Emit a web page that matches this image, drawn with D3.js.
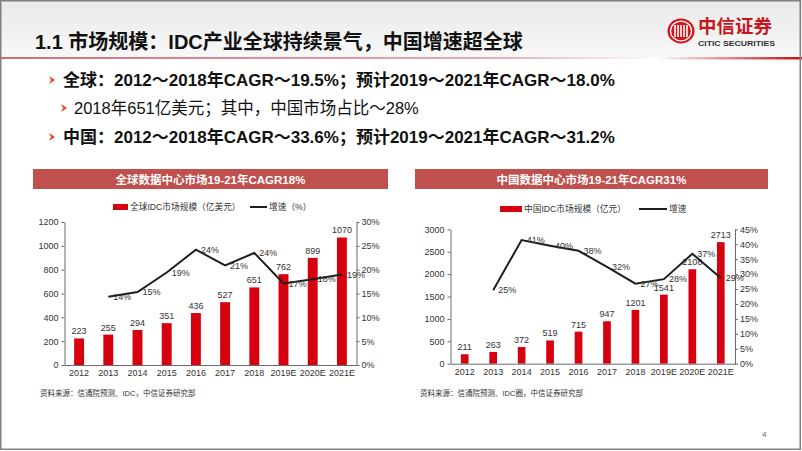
<!DOCTYPE html>
<html><head><meta charset="utf-8">
<script src="https://cdn.jsdelivr.net/npm/d3@7"></script>
<style>
body{margin:0;background:#fff}
svg{display:block}
text{font-family:"Liberation Sans","Noto Sans CJK SC",sans-serif}
</style>
</head><body>
<svg id="c" width="802" height="451"></svg>
<script>
// ---------- data ----------
const years = ["2012","2013","2014","2015","2016","2017","2018","2019E","2020E","2021E"];
const globalSize = [223,255,294,351,436,527,651,762,899,1070];
const globalGrowth = [null,14.3,15.3,19.4,24.2,20.9,23.5,17.1,18.0,19.0];
const chinaSize = [211,263,372,519,715,947,1201,1541,2108,2713];
const chinaGrowth = [null,24.6,41.4,39.5,37.8,32.4,26.8,28.3,36.8,28.7];
const globalLeftTicks = [0,200,400,600,800,1000,1200];
const globalRightTicks = [0,5,10,15,20,25,30];
const chinaLeftTicks = [0,500,1000,1500,2000,2500,3000];
const chinaRightTicks = [0,5,10,15,20,25,30,35,40,45];

const pageTitle = "1.1 市场规模：IDC产业全球持续景气，中国增速超全球";
const bullets = [
  {t:"全球：2012～2018年CAGR～19.5%；预计2019～2021年CAGR～18.0%", lvl:0},
  {t:"2018年651亿美元；其中，中国市场占比～28%", lvl:1},
  {t:"中国：2012～2018年CAGR～33.6%；预计2019～2021年CAGR～31.2%", lvl:0}
];

const svg = d3.select("#c");
const defs = svg.append("defs");
const hg = defs.append("linearGradient").attr("id","hdr").attr("x1",0).attr("x2",0).attr("y1",0).attr("y2",1);
hg.append("stop").attr("offset",0).attr("stop-color","#e9e9e9");
hg.append("stop").attr("offset",1).attr("stop-color","#f8f8f8");
const l1 = defs.append("linearGradient").attr("id","ln1");
l1.append("stop").attr("offset",0).attr("stop-color","#cf6e78");
l1.append("stop").attr("offset",0.75).attr("stop-color","#e6aeb3");
l1.append("stop").attr("offset",1).attr("stop-color","#ffffff");
const l2 = defs.append("linearGradient").attr("id","ln2");
l2.append("stop").attr("offset",0).attr("stop-color","#ffffff");
l2.append("stop").attr("offset",1).attr("stop-color","#bf1018");

// header
svg.append("rect").attr("x",0).attr("y",0).attr("width",802).attr("height",57).attr("fill","url(#hdr)");
svg.append("rect").attr("x",0).attr("y",57).attr("width",665).attr("height",2).attr("fill","url(#ln1)");
svg.append("rect").attr("x",655).attr("y",57).attr("width",147).attr("height",2.5).attr("fill","url(#ln2)");
svg.append("text").attr("x",35).attr("y",49).attr("font-size",20).attr("font-weight","bold")
  .attr("fill","#111").text(pageTitle);

// logo
const lg = svg.append("g").attr("transform","translate(681,31)");
lg.append("ellipse").attr("rx",13.5).attr("ry",12.5).attr("fill","#d2161e");
lg.append("ellipse").attr("rx",10.5).attr("ry",9.8).attr("fill","none").attr("stroke","#fff").attr("stroke-width",1.3);
[-6,-3,0,3,6].forEach(dx=>{
  lg.append("rect").attr("x",dx-0.8).attr("y",-6).attr("width",1.6).attr("height",12).attr("fill","#fff");
});
svg.append("text").attr("x",698).attr("y",33).attr("font-size",18.5).attr("font-weight","bold")
  .attr("fill","#c8161d").attr("font-family","'Noto Sans CJK SC'").text("中信证券");
svg.append("text").attr("x",698).attr("y",45.5).attr("font-size",8).attr("font-weight","bold")
  .attr("fill","#333").attr("textLength",77).attr("lengthAdjust","spacingAndGlyphs").text("CITIC SECURITIES");

// bullets
const by = [86,114,143];
bullets.forEach((b,i)=>{
  const ax = b.lvl ? 61 : 49;
  const cy = by[i]-6;
  svg.append("path").attr("d",`M${ax},${cy-4} L${ax+6},${cy} L${ax},${cy+4} L${ax+2},${cy} Z`)
    .attr("fill","#e2462a");
  svg.append("text").attr("x", b.lvl ? 74 : 63).attr("y",by[i])
    .attr("font-size", b.lvl ? 16.5 : 17).attr("font-weight", b.lvl ? "normal" : "bold")
    .attr("fill","#111").text(b.t);
});

// border
svg.append("rect").attr("x",0.75).attr("y",0.75).attr("width",799.5).attr("height",448.5)
  .attr("fill","none").attr("stroke","#808080").attr("stroke-width",1.5);

svg.append("text").attr("x",762).attr("y",437).attr("font-size",8).attr("fill","#666").text("4");

function drawChart(o){
  const g = svg.append("g");
  g.append("rect").attr("x",o.bx).attr("y",169).attr("width",o.bw).attr("height",20).attr("fill","#c0504d");
  g.append("text").attr("x",o.bx+o.bw/2).attr("y",183.5).attr("text-anchor","middle")
    .attr("font-size",11.5).attr("font-weight","bold").attr("fill","#fff").text(o.title);

  const x = d3.scaleBand().domain(years).range(o.xr).paddingInner(o.pi).paddingOuter(o.pi/2);
  const yL = d3.scaleLinear().domain([0,o.maxL]).range([o.y0,o.y1]);
  const yR = d3.scaleLinear().domain([0,o.maxR]).range([o.y0,o.y1]);

  // bars
  g.selectAll(".bar").data(o.size).join("rect")
    .attr("x",(d,i)=>x(years[i])).attr("y",d=>yL(d))
    .attr("width",x.bandwidth()).attr("height",d=>o.y0-yL(d)).attr("fill","#d7000f");

  // axes
  const ax = g.append("g").attr("transform",`translate(0,${o.y0})`)
    .call(d3.axisBottom(x).tickSize(0).tickPadding(5));
  const al = g.append("g").attr("transform",`translate(${o.xr[0]},0)`)
    .call(d3.axisLeft(yL).tickValues(o.ticksL).tickSize(3).tickSizeOuter(0).tickPadding(3).tickFormat(d3.format("d")));
  const ar = g.append("g").attr("transform",`translate(${o.xr[1]},0)`)
    .call(d3.axisRight(yR).tickValues(o.ticksR).tickSize(3).tickSizeOuter(0).tickPadding(2).tickFormat(d=>d+"%"));
  [ax,al,ar].forEach(a=>{
    a.selectAll("path,line").attr("stroke","#6b6b6b");
    a.selectAll("text").attr("font-size",9).attr("fill","#333")
      .attr("font-family","'Liberation Sans',sans-serif");
  });

  // bar value labels
  g.selectAll(".bl").data(o.size).join("text")
    .attr("x",(d,i)=>x(years[i])+x.bandwidth()/2).attr("y",d=>yL(d)-4)
    .attr("text-anchor","middle").attr("font-size",9).attr("fill","#333").text(d=>d);

  // growth line
  const pts = o.growth.map((v,i)=>({k:years[i],v})).filter(d=>d.v!=null);
  const line = d3.line().x(d=>x(d.k)+x.bandwidth()/2).y(d=>yR(d.v));
  g.append("path").attr("d",line(pts)).attr("fill","none").attr("stroke","#1e1e1e").attr("stroke-width",2);
  g.selectAll(".gl").data(pts).join("text")
    .attr("x",d=>x(d.k)+x.bandwidth()/2+5).attr("y",d=>yR(d.v)).attr("dy","0.35em")
    .attr("font-size",9).attr("fill","#333").text(d=>d3.format(".0f")(d.v)+"%");

  // legend
  const lgd = o.legend;
  g.append("rect").attr("x",lgd.rx).attr("y",lgd.y-3).attr("width",lgd.rw).attr("height",6).attr("fill","#d7000f");
  g.append("text").attr("x",lgd.rx+lgd.rw+2).attr("y",lgd.y).attr("dy","0.35em").attr("font-size",8.7)
    .attr("fill","#333").text(o.barName);
  g.append("line").attr("x1",lgd.lx).attr("x2",lgd.lx+lgd.lw).attr("y1",lgd.y).attr("y2",lgd.y)
    .attr("stroke","#1e1e1e").attr("stroke-width",2);
  g.append("text").attr("x",lgd.lx+lgd.lw+2).attr("y",lgd.y).attr("dy","0.35em").attr("font-size",8.7)
    .attr("fill","#333").text(o.lineName);

  // source
  g.append("text").attr("x",o.srcX).attr("y",396).attr("font-size",7.5).attr("fill","#333").text(o.source);
}

drawChart({
  bx:33,bw:355,title:"全球数据中心市场19-21年CAGR18%",
  xr:[64.5,356.5],pi:0.66,y0:365,y1:222,maxL:1200,maxR:30,
  ticksL:globalLeftTicks,ticksR:globalRightTicks,
  size:globalSize,growth:globalGrowth,
  legend:{rx:113,rw:15,lx:250,lw:17,y:207},
  barName:"全球IDC市场规模（亿美元）",lineName:"增速（%）",
  srcX:40,source:"资料来源：信通院预测、IDC，中信证券研究部"
});
drawChart({
  bx:415,bw:353,title:"中国数据中心市场19-21年CAGR31%",
  xr:[450.5,735],pi:0.73,y0:363.7,y1:229.3,maxL:3000,maxR:45,
  ticksL:chinaLeftTicks,ticksR:chinaRightTicks,
  size:chinaSize,growth:chinaGrowth,
  legend:{rx:500,rw:22,lx:639,lw:28,y:209},
  barName:"中国IDC市场规模（亿元）",lineName:"增速",
  srcX:420,source:"资料来源：信通院预测、IDC圈，中信证券研究部"
});
</script>
</body></html>
